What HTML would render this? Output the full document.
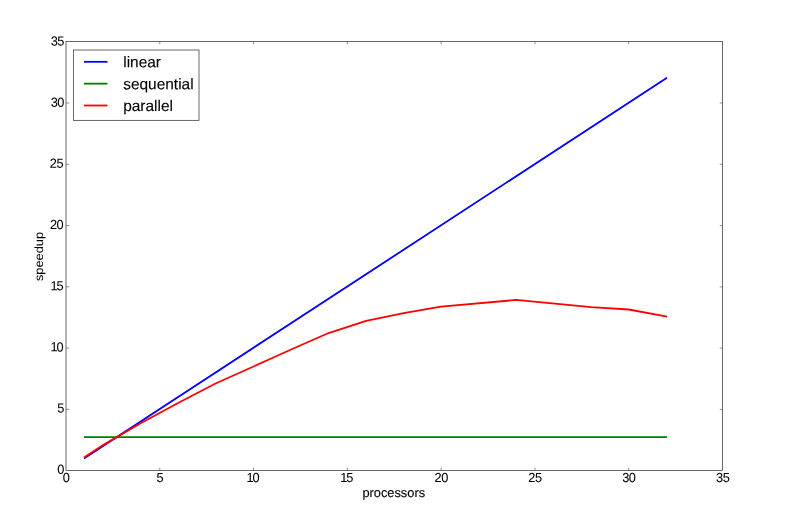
<!DOCTYPE html>
<html lang="en">
<head>
<meta charset="utf-8">
<title>speedup vs processors</title>
<style>
html,body{margin:0;padding:0;background:#fff;}
body{width:789px;height:518px;overflow:hidden;}
svg{display:block;}
text{font-family:"Liberation Sans",sans-serif;fill:#000;stroke:#000;stroke-width:0.12px;text-rendering:geometricPrecision;}
.tick{font-size:13.2px;letter-spacing:-0.4px;stroke-width:0.06px;}
.lab{font-size:12.8px;}
.leg{font-size:15.45px;}
</style>
</head>
<body>
<svg width="789" height="518" viewBox="0 0 789 518">
<rect x="0" y="0" width="789" height="518" fill="#ffffff"/>
<g fill="none" stroke-width="1.8" stroke-linecap="square" stroke-linejoin="round">
<polyline stroke="#0000ff" points="84.76,457.95 666.23,78.25"/>
<polyline stroke="#008000" points="84.76,437.13 666.23,437.13"/>
<polyline stroke="#ff0000" points="84.76,457.09 103.51,444.85 141.03,423.04 178.54,402.83 216.06,383.24 253.57,366.45 291.09,349.55 328.60,333.02 366.11,320.77 403.63,313.05 441.14,306.56 516.17,299.94 591.20,307.05 628.71,309.50 666.23,316.48"/>
</g>
<rect x="66.0" y="41.5" width="656.5" height="429.0" fill="none" stroke="#1c1c1c" stroke-width="0.66"/>
<g stroke="#555555" stroke-width="0.66">
<line x1="159.79" y1="470.50" x2="159.79" y2="467.70"/><line x1="159.79" y1="41.50" x2="159.79" y2="44.30"/><line x1="66.00" y1="409.41" x2="69.30" y2="409.41"/><line x1="722.50" y1="409.41" x2="719.70" y2="409.41"/>
<line x1="253.57" y1="470.50" x2="253.57" y2="467.70"/><line x1="253.57" y1="41.50" x2="253.57" y2="44.30"/><line x1="66.00" y1="348.13" x2="69.30" y2="348.13"/><line x1="722.50" y1="348.13" x2="719.70" y2="348.13"/>
<line x1="347.36" y1="470.50" x2="347.36" y2="467.70"/><line x1="347.36" y1="41.50" x2="347.36" y2="44.30"/><line x1="66.00" y1="286.84" x2="69.30" y2="286.84"/><line x1="722.50" y1="286.84" x2="719.70" y2="286.84"/>
<line x1="441.14" y1="470.50" x2="441.14" y2="467.70"/><line x1="441.14" y1="41.50" x2="441.14" y2="44.30"/><line x1="66.00" y1="225.56" x2="69.30" y2="225.56"/><line x1="722.50" y1="225.56" x2="719.70" y2="225.56"/>
<line x1="534.93" y1="470.50" x2="534.93" y2="467.70"/><line x1="534.93" y1="41.50" x2="534.93" y2="44.30"/><line x1="66.00" y1="164.27" x2="69.30" y2="164.27"/><line x1="722.50" y1="164.27" x2="719.70" y2="164.27"/>
<line x1="628.71" y1="470.50" x2="628.71" y2="467.70"/><line x1="628.71" y1="41.50" x2="628.71" y2="44.30"/><line x1="66.00" y1="102.99" x2="69.30" y2="102.99"/><line x1="722.50" y1="102.99" x2="719.70" y2="102.99"/>
</g>
<text class="tick" transform="translate(66.15,482.00) rotate(0.03) scale(0.97,1)" text-anchor="middle">0</text><text class="tick" transform="translate(64.10,473.75) rotate(0.03) scale(0.97,1)" text-anchor="end">0</text>
<text class="tick" transform="translate(159.94,482.00) rotate(0.03) scale(0.97,1)" text-anchor="middle">5</text><text class="tick" transform="translate(64.10,412.56) rotate(0.03) scale(0.97,1)" text-anchor="end">5</text>
<text class="tick" transform="translate(252.87,482.00) rotate(0.03) scale(0.97,1)" text-anchor="middle" dx="0 -0.8">10</text><text class="tick" transform="translate(63.25,351.38) rotate(0.03) scale(0.97,1)" text-anchor="end" dx="0 -0.8">10</text>
<text class="tick" transform="translate(346.66,482.00) rotate(0.03) scale(0.97,1)" text-anchor="middle" dx="0 -0.8">15</text><text class="tick" transform="translate(63.25,290.19) rotate(0.03) scale(0.97,1)" text-anchor="end" dx="0 -0.8">15</text>
<text class="tick" transform="translate(441.29,482.00) rotate(0.03) scale(0.97,1)" text-anchor="middle">20</text><text class="tick" transform="translate(63.35,229.01) rotate(0.03) scale(0.97,1)" text-anchor="end">20</text>
<text class="tick" transform="translate(535.08,482.00) rotate(0.03) scale(0.97,1)" text-anchor="middle">25</text><text class="tick" transform="translate(63.25,167.82) rotate(0.03) scale(0.97,1)" text-anchor="end">25</text>
<text class="tick" transform="translate(628.86,482.00) rotate(0.03) scale(0.97,1)" text-anchor="middle">30</text><text class="tick" transform="translate(64.10,106.64) rotate(0.03) scale(0.97,1)" text-anchor="end">30</text>
<text class="tick" transform="translate(722.65,482.00) rotate(0.03) scale(0.97,1)" text-anchor="middle">35</text><text class="tick" transform="translate(64.10,45.45) rotate(0.03) scale(0.97,1)" text-anchor="end">35</text>
<text class="lab" transform="translate(393.75,497.00) rotate(0.03)" text-anchor="middle">processors</text>
<text class="lab" transform="translate(43.25,256.50) rotate(-90) scale(1,0.93)" text-anchor="middle" style="stroke-width:0">speedup</text>
<rect x="73.5" y="50.0" width="125.5" height="70.3" fill="#ffffff" stroke="#1c1c1c" stroke-width="0.66"/>
<line x1="84.0" y1="61.80" x2="107.5" y2="61.80" stroke="#0000ff" stroke-width="1.8"/><text class="leg" transform="translate(123.20,67.30) rotate(0.03)" text-anchor="start">linear</text>
<line x1="84.0" y1="83.65" x2="107.5" y2="83.65" stroke="#008000" stroke-width="1.8"/><text class="leg" transform="translate(123.20,89.15) rotate(0.03)" text-anchor="start">sequential</text>
<line x1="84.0" y1="105.50" x2="107.5" y2="105.50" stroke="#ff0000" stroke-width="1.8"/><text class="leg" transform="translate(123.20,111.00) rotate(0.03)" text-anchor="start">parallel</text>
</svg>
</body>
</html>
